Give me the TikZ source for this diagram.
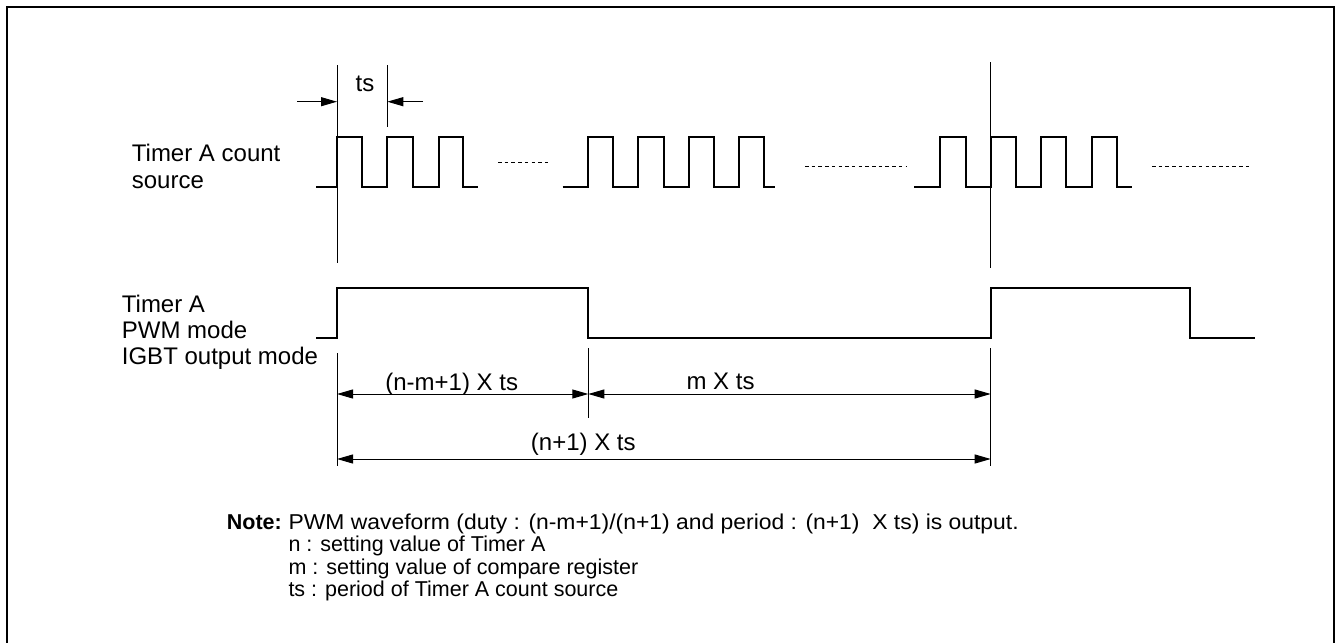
\documentclass[tikz,border=0pt]{standalone}
\usepackage{fontspec}
\setmainfont{Liberation Sans}
\usetikzlibrary{arrows.meta}
\begin{document}
\begin{tikzpicture}[x=1pt,y=-1pt,
  wave/.style={line width=2.3pt, line join=miter},
  thinl/.style={line width=1pt},
  frm/.style={line width=2pt},
  tip/.tip={Triangle[length=16pt,width=9pt]},
  dimarr/.style={line width=1pt, tip-tip},
  onearr/.style={line width=1pt, -tip},
  dotl/.style={line width=1pt, dash pattern=on 3.5pt off 3.2pt},
  lbl/.style={font=\fontsize{24}{26}\selectfont, inner sep=0pt, anchor=base west},
  dimlbl/.style={font=\fontsize{24}{26}\selectfont, inner sep=0pt, anchor=base},
  note/.style={font=\fontsize{21.5}{23}\selectfont, inner sep=0pt, anchor=base west}]
\useasboundingbox (0,0) rectangle (1337,642);
\draw[frm] (7,7) rectangle (1334.3,646);

% count source waveform
\draw[wave] (316,187) -- (337,187) -- (337,137) -- (361.7,137) -- (361.7,187) -- (387.3,187) -- (387.3,137) -- (413,137) -- (413,187) -- (439,187) -- (439,137) -- (462.7,137) -- (462.7,187) -- (478,187);
\draw[wave] (562.7,187) -- (588.3,187) -- (588.3,137) -- (613.3,137) -- (613.3,187) -- (638,187) -- (638,137) -- (664,137) -- (664,187) -- (689,187) -- (689,137) -- (714,137) -- (714,187) -- (739.3,187) -- (739.3,137) -- (764.3,137) -- (764.3,187) -- (775,187);
\draw[wave] (914.3,187) -- (940,187) -- (940,137) -- (966,137) -- (966,187) -- (990.7,187) -- (990.7,137) -- (1016,137) -- (1016,187) -- (1041,187) -- (1041,137) -- (1066,137) -- (1066,187) -- (1091.7,187) -- (1091.7,137) -- (1116.7,137) -- (1116.7,187) -- (1132,187);
\draw[dotl] (498,162) -- (551,162);
\draw[dotl] (805,166.7) -- (906,166.7);
\draw[dotl] (1152,166.7) -- (1252,166.7);

% PWM waveform
\draw[wave] (316,338) -- (337,338) -- (337,288.3) -- (588.3,288.3) -- (588.3,338) -- (990.7,338) -- (990.7,288.3) -- (1190,288.3) -- (1190,338) -- (1255,338);

% reference lines
\coordinate (vA1) at (337,65);   \coordinate (vA2) at (337,263);
\coordinate (vB1) at (387.3,65); \coordinate (vB2) at (387.3,127);
\coordinate (vC1) at (990.7,62); \coordinate (vC2) at (990.7,268);
\draw[thinl] (vA1) -- (vA2);
\draw[thinl] (vB1) -- (vB2);
\draw[thinl] (vC1) -- (vC2);

% ts dimension
\coordinate (tsL) at (297,101.7);
\coordinate (tsA) at (337,101.7);
\coordinate (tsB) at (387.3,101.7);
\coordinate (tsR) at (423,101.7);
\draw[onearr] (tsL) -- (tsA);
\draw[onearr] (tsR) -- (tsB);
\node[dimlbl] (tslbl) at (365,91.7) {ts};

% lower dimension lines
\coordinate (dA1) at (337,353);   \coordinate (dA2) at (337,466);
\coordinate (dB1) at (588.3,348); \coordinate (dB2) at (588.3,418);
\coordinate (dC1) at (990.7,348); \coordinate (dC2) at (990.7,466);
\draw[thinl] (dA1) -- (dA2);
\draw[thinl] (dB1) -- (dB2);
\draw[thinl] (dC1) -- (dC2);
\coordinate (r1a) at (337,394);   \coordinate (r1b) at (588.3,394); \coordinate (r1c) at (990.7,394);
\coordinate (r2a) at (337,459);   \coordinate (r2c) at (990.7,459);
\draw[dimarr] (r1a) -- (r1b);
\draw[dimarr] (r1b) -- (r1c);
\draw[dimarr] (r2a) -- (r2c);
\node[dimlbl] (lblduty) at (451.7,390) {(n-m+1) X ts};
\node[dimlbl] (lblm) at (720.5,389.3) {m X ts};
\node[dimlbl] (lbln) at (583.3,450) {(n+1) X ts};

% signal labels
\node[lbl] (cs1) at (131.7,161.7) {Timer A count};
\node[lbl] (cs2) at (131.7,188.3) {source};
\node[lbl] (pw1) at (121.7,312.7) {Timer A};
\node[lbl] (pw2) at (121.7,338.7) {PWM mode};
\node[lbl] (pw3) at (121.7,364.7) {IGBT output mode};

% note
\node[note] (n0) at (226.7,529) {\textbf{Note:}};
\node[note] (n0b) at (288.3,529) {\scalebox{1.065}[1]{PWM waveform (duty : (n-m+1)/(n+1) and period : (n+1) \ X ts) is output.}};
\node[note] (n1) at (288.3,551.5) {n : setting value of Timer A};
\node[note] (n2) at (288.3,574) {m : setting value of compare register};
\node[note] (n3) at (288.3,596.5) {ts : period of Timer A count source};
\end{tikzpicture}
\end{document}
